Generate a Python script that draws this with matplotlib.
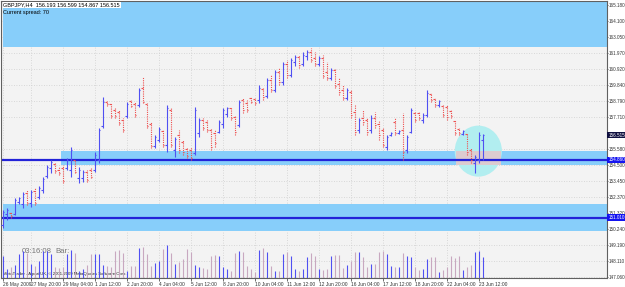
import matplotlib.pyplot as plt
from matplotlib.patches import Rectangle, Ellipse
from matplotlib.transforms import blended_transform_factory

plt.rcParams['font.family'] = ['Liberation Sans Narrow', 'Liberation Sans', 'DejaVu Sans']

# GBPJPY H4 bars, 26 May 2009 16:00 .. 23 Jun 2009 16:00
opens = [150.53, 151.26, 151.33, 151.26, 152.06, 151.93, 152.66, 151.99, 152.79, 152.39,
         152.86, 153.79, 154.32, 154.59, 154.19, 154.32, 154.32, 154.19, 154.86, 153.66,
         153.66, 154.06, 154.19, 154.19, 154.86, 157.12, 158.72, 158.59, 158.19, 158.05,
         157.52, 157.79, 158.79, 158.59, 158.52, 159.65, 158.59, 157.25, 155.79, 156.19,
         156.79, 155.86, 158.19, 155.52, 156.52, 156.06, 155.59, 155.52, 155.32, 156.66,
         157.52, 157.39, 156.85, 156.66, 156.72, 157.25, 157.92, 158.32, 157.72, 157.19,
         158.85, 158.65, 158.99, 158.92, 158.85, 159.59, 159.12, 160.18, 159.52, 160.72,
         160.05, 161.25, 160.52, 161.38, 161.72, 161.25, 161.78, 162.05, 161.65, 161.25,
         161.65, 160.72, 160.32, 160.85, 159.92, 159.52, 158.99, 159.39, 158.05, 156.85,
         157.65, 157.52, 156.85, 157.65, 157.25, 156.85, 155.72, 156.52, 157.39, 156.66,
         156.85, 155.52, 156.72, 157.99, 157.99, 157.52, 157.85, 159.25, 158.92, 158.52,
         158.45, 158.39, 158.12, 157.45, 156.92, 156.59, 156.59, 155.52, 154.66, 154.86,
         156.193]
highs = [151.53, 151.66, 151.39, 152.33, 152.39, 152.73, 152.86, 152.86, 152.99, 153.13,
         153.72, 154.52, 154.86, 154.66, 154.39, 154.52, 154.99, 155.72, 154.86, 154.39,
         154.19, 154.19, 154.32, 155.39, 156.99, 159.05, 158.79, 158.65, 158.32, 158.19,
         157.65, 158.72, 158.85, 158.72, 159.65, 160.38, 158.65, 157.39, 156.52, 157.05,
         156.85, 158.52, 158.32, 156.39, 156.85, 156.19, 155.66, 155.72, 158.39, 157.65,
         157.65, 157.52, 156.99, 156.85, 157.52, 158.32, 158.39, 158.39, 157.85, 158.85,
         158.99, 158.85, 159.05, 158.99, 159.85, 159.65, 160.32, 160.52, 160.85, 160.98,
         161.38, 161.52, 161.65, 161.85, 161.85, 162.05, 162.18, 162.32, 162.05, 161.78,
         161.85, 161.38, 160.98, 160.98, 160.32, 159.85, 159.65, 159.52, 158.52, 157.65,
         158.19, 157.65, 157.85, 158.05, 157.52, 157.05, 156.52, 156.72, 157.65, 156.85,
         157.99, 156.52, 158.32, 158.05, 158.05, 157.99, 159.52, 159.32, 158.99, 158.85,
         158.52, 158.52, 158.19, 157.52, 156.99, 156.85, 156.66, 155.66, 155.19, 156.72,
         156.599]
lows = [150.33, 150.86, 150.99, 151.19, 151.93, 151.66, 151.86, 151.73, 151.86, 152.26,
        152.66, 153.66, 153.99, 153.99, 153.86, 153.32, 154.19, 153.72, 153.99, 153.32,
        153.39, 153.39, 153.66, 154.06, 154.66, 156.99, 158.45, 157.65, 157.65, 157.19,
        156.72, 157.65, 158.39, 157.72, 158.39, 158.65, 156.99, 155.66, 155.66, 156.06,
        155.72, 155.39, 155.72, 155.06, 155.32, 155.19, 154.99, 154.86, 155.19, 156.39,
        156.85, 156.72, 155.52, 155.72, 156.66, 156.99, 157.72, 157.52, 156.52, 157.05,
        157.99, 158.05, 158.65, 158.52, 158.65, 158.85, 158.99, 159.39, 159.39, 159.85,
        159.85, 160.32, 160.38, 161.12, 160.98, 161.12, 161.52, 161.38, 161.12, 161.12,
        160.32, 160.18, 160.18, 159.65, 159.19, 158.85, 158.85, 157.65, 156.52, 156.66,
        157.19, 156.52, 156.66, 156.99, 156.19, 155.72, 155.52, 156.46, 156.52, 156.59,
        154.86, 155.32, 156.66, 157.39, 157.52, 157.32, 157.72, 158.72, 158.39, 158.39,
        157.72, 157.52, 157.65, 156.52, 156.52, 156.52, 155.19, 154.66, 153.99, 154.66,
        154.867]
closes = [151.39, 151.53, 151.13, 152.19, 152.33, 152.59, 151.99, 152.73, 151.99, 152.99,
          153.59, 154.39, 154.72, 154.12, 153.99, 153.46, 154.86, 155.52, 154.06, 154.19,
          154.06, 153.53, 153.72, 155.19, 156.85, 158.72, 158.59, 157.79, 157.79, 157.32,
          156.85, 158.59, 158.45, 157.85, 159.52, 158.72, 157.12, 155.79, 156.39, 156.92,
          155.86, 158.32, 155.86, 156.26, 155.52, 155.39, 155.12, 154.99, 158.19, 157.52,
          156.99, 156.85, 155.72, 155.99, 157.39, 158.19, 158.32, 157.65, 156.72, 158.72,
          158.19, 158.19, 158.72, 158.65, 159.65, 159.05, 160.18, 159.52, 160.72, 160.05,
          161.25, 160.52, 161.52, 161.72, 161.18, 161.85, 162.05, 161.52, 161.25, 161.65,
          160.45, 160.32, 160.85, 159.79, 159.39, 158.99, 159.52, 157.85, 156.72, 157.52,
          157.39, 156.72, 157.65, 157.19, 156.52, 155.86, 156.39, 156.66, 156.66, 156.79,
          155.39, 156.39, 158.19, 157.52, 157.65, 157.85, 159.32, 158.85, 158.52, 158.79,
          157.85, 157.72, 157.79, 156.66, 156.66, 156.79, 155.39, 154.86, 155.06, 156.52,
          156.515]
volumes = [2230, 900, 1130, 1330, 2400, 2730, 2470, 1400, 1230, 1670,
           2670, 2670, 2400, 1130, 1000, 1130, 2400, 2800, 2470, 730,
           900, 1330, 2400, 2400, 2400, 1330, 1230, 1130, 2670, 2800,
           2470, 730, 1230, 1230, 3000, 3070, 2400, 1230, 1470, 1730,
           2900, 3330, 2470, 1400, 1570, 1900, 2900, 2570, 1330, 1070,
           1000, 900, 2230, 2330, 2230, 1070, 900, 730, 2470, 2730,
           2570, 1230, 900, 570, 2800, 3000, 2570, 1230, 730, 670,
           2400, 2570, 2230, 900, 730, 900, 2130, 2470, 2230, 900,
           800, 900, 2230, 2330, 2330, 1000, 1330, 1670, 2570, 2570,
           2130, 1070, 1400, 1400, 2570, 2670, 2400, 1230, 1130, 1070,
           2470, 2230, 2070, 1070, 800, 900, 1900, 2130, 2070, 570,
           800, 1070, 2230, 2000, 2230, 800, 1070, 1330, 2570, 2670,
           2130]

time_ticks = [0, 7, 15, 23, 31, 39, 47, 55, 63, 71, 79, 87, 95, 103, 111, 119]
time_labels = ['26 May 2009', '27 May 20:00', '29 May 04:00', '1 Jun 12:00', '2 Jun 20:00',
               '4 Jun 04:00', '5 Jun 12:00', '8 Jun 20:00', '10 Jun 04:00', '11 Jun 12:00',
               '12 Jun 20:00', '16 Jun 04:00', '17 Jun 12:00', '18 Jun 20:00',
               '22 Jun 04:00', '23 Jun 12:00']
price_ticks = [165.180, 164.100, 163.050, 161.970, 160.920, 159.840, 158.790, 157.710,
               155.580, 154.500, 153.450, 152.370, 151.320, 150.240, 149.190, 148.110, 147.060]
line_levels = [154.860, 151.010]
zones = [(162.38, 166.0, 0), (154.50, 155.45, 14.6), (150.13, 151.93, 0)]
last_price = 156.515

UP = '#5050F2'
DOWN = '#EE5050'
FS = 3.3

fig = plt.figure(figsize=(6.25, 2.87), dpi=100)
ax = fig.add_axes([1 / 625, 9 / 287, 606 / 625, 277 / 287])
ax.set_facecolor('#F3F3F3')
ax.set_xlim(-0.43, 151.07)
ax.set_ylim(147.0, 165.45)

for lo, hi, x0 in zones:
    ax.add_patch(Rectangle((x0, lo), 200, hi - lo, facecolor='#87CEFA', edgecolor='none', zorder=1))

ax.add_patch(Ellipse((118.9, 155.45), 11.8, 3.4, facecolor='#B2EEF0', edgecolor='none', zorder=1.5))
ax.add_patch(Rectangle((118.9 - 5.6, 154.50), 11.2, 0.95, facecolor='#DCCCD0',
                       edgecolor='none', zorder=1.6))

for lv in line_levels:
    ax.axhline(lv, color='#2323D8', lw=1.6, zorder=2)

n = len(opens)
xs = list(range(n))
up = [i for i in xs if closes[i] >= opens[i]]
dn = [i for i in xs if closes[i] < opens[i]]
for idx, col, ls in [(up, UP, 'solid'), (dn, DOWN, (0, (1, 1)))]:
    ax.vlines(idx, [lows[i] for i in idx], [highs[i] for i in idx], colors=col, lw=0.8, linestyles=ls, zorder=3)
    ax.hlines([opens[i] for i in idx], [i - 0.4 for i in idx], idx, colors=col, lw=0.8, zorder=3)
    ax.hlines([closes[i] for i in idx], idx, [i + 0.4 for i in idx], colors=col, lw=0.8, zorder=3)

# volumes at bottom of main window
axv = fig.add_axes(ax.get_position(), frameon=False, sharex=ax)
axv.set_ylim(0, 27700)
vcol = [UP if closes[i] >= opens[i] else '#C8A8C0' for i in xs]
axv.vlines(xs, 0, volumes, colors=vcol, lw=0.8)
axv.axis('off')

ax.grid(True, color='#CFCFCF', linestyle=(0, (1, 2)), lw=0.6)
ax.set_axisbelow(True)
ax.yaxis.tick_right()
ax.set_yticks(price_ticks)
ax.set_yticklabels([f'{p:.3f}' for p in price_ticks], fontsize=FS, color='#333333')
ax.set_xticks(time_ticks)
ax.set_xticklabels(time_labels, fontsize=3.5, color='#333333')
for t in ax.get_xticklabels():
    t.set_ha('left')
ax.tick_params(axis='y', length=1, pad=0.4, width=0.6, color='#555555')
ax.tick_params(axis='x', length=2, pad=1, width=0.6, color='#555555')
for s in ax.spines.values():
    s.set_color('#606060')
    s.set_linewidth(0.8)

tr = blended_transform_factory(ax.transAxes, ax.transData)
for lv in line_levels:
    ax.text(1.002, lv, f'{lv:.3f}', transform=tr, fontsize=FS, color='white', va='center',
            ha='left', bbox=dict(facecolor='#1414F0', edgecolor='none', pad=0.6), zorder=5)
ax.text(1.002, last_price, f'{last_price:.3f}', transform=tr, fontsize=FS, color='white',
        va='center', ha='left', bbox=dict(facecolor='#101040', edgecolor='none', pad=0.6), zorder=5)

ax.text(0.004, 0.995, f'GBPJPY,H4  {opens[-1]:.3f} {highs[-1]:.3f} {lows[-1]:.3f} {closes[-1]:.3f}',
        transform=ax.transAxes, fontsize=4.0, va='top', ha='left', color='black',
        bbox=dict(facecolor='white', edgecolor='none', pad=0.5), zorder=6)
ax.text(0.004, 0.966, 'Current spread: 70', transform=ax.transAxes, fontsize=4.0,
        va='top', ha='left', color='black', zorder=6)
ax.text(0.035, 0.09, '03:16:08', transform=ax.transAxes, fontsize=5.6, color='#777777', zorder=6)
ax.text(0.089, 0.09, 'Bar:', transform=ax.transAxes, fontsize=5.6, color='#777777', zorder=6)
ax.text(0.004, 0.012, 'MetaTrader - Alpari UK, \u00a9 2001-2009 MetaQuotes Software Corp.',
        transform=ax.transAxes, fontsize=3.1, color='#222222', zorder=6)

fig.savefig('out.png', dpi=100, facecolor='white')
